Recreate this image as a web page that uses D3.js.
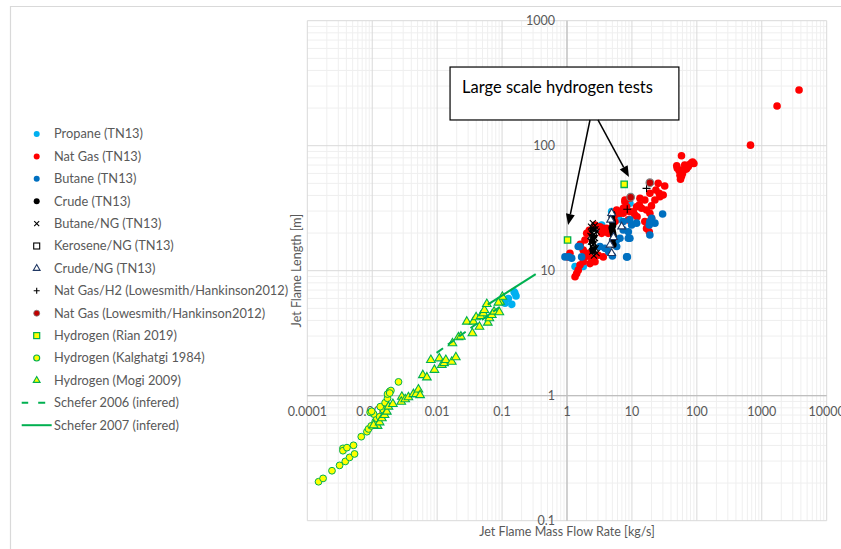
<!DOCTYPE html>
<html><head><meta charset="utf-8">
<script src="https://cdn.jsdelivr.net/npm/d3@7"></script>
<style>body{margin:0;background:#fff}svg{display:block;font-family:Lato,"Open Sans",sans-serif}</style>
</head><body><svg id="c" width="841" height="549"></svg>
<script>
// ---------- DATA (mass flow rate kg/s, flame length m) ----------
const propaneTN13 = [[0.111,5.49],[0.141,5.38],[0.105,5.83],[0.125,6.0],[0.153,6.79],[0.164,6.28],[0.158,6.6],
  [9.3,34.6],[4.87,29.7],[3.42,23.2],[5.82,25.5],[1.78,10.8],[1.33,10.8],[2.9,21.5],[6.2,26.5]];
const natGasTN13 = [[3750,279],[1720,208],[670,101],
  [58,83],[49,69],[83,73],[90,72],[69,65],[62,64],[53.5,63],[55,58],[56,54],[73.5,68],[65,70],[78,71],[50,66],[60,60],[66,66],[86,74],[58,57],
  [25.4,50],[32,47.6],[23.4,44.2],[26.3,41.6],[30.3,40.3],[18.9,41.6],[15.8,36.8],[13,33.6],[14.1,31.6],[16.8,30.6],[18.9,28.8],[20.1,26.3],
  [15.8,24.7],[16.8,21.8],[18.5,20.5],[10.5,29.6],[8.8,25.5],[7.8,35.6],[8.3,32.5],[11.8,32.5],[7.35,28.8],[22.6,36.8],[12,27],[13.3,38],
  [9.3,38],[7.8,36.8],[11.1,27.9],[9.3,29.6],[5.47,27.9],[5.82,30.6],[6.54,28.8],[7.35,31.6],[5.47,24.7],[20,33],[27,39],
  [2.7,23.2],[3.22,22.5],[3.62,21.8],[4.07,21.8],[4.32,19.9],[3.42,19.9],[2.01,19.9],[1.89,17.6],[1.78,14.6],[2.13,13.8],[1.89,12.9],
  [2.4,12.6],[2.7,11.8],[2.26,11.4],[1.78,11.8],[1.585,11.1],[1.49,10.1],[1.41,9.5],[1.33,8.95],[1.11,13.8],[1.02,12.9],[3.62,12.9],
  [3.03,13.3],[2.2,21],[1.6,16.3]];
const butaneTN13 = [[0.93,12.9],[1.07,12.9],[1.18,12.6],[1.49,15.6],[1.68,12.9],[1.585,15.6],[3.22,15.6],[3.84,15.1],[5.82,17.6],
  [6.54,18.2],[5.82,15.6],[8.28,12.9],[9.3,18.2],[8.8,20.5],[7.35,21.2],[9.9,23.2],[9.3,25.5],[11.8,24],[29.7,28.4],[20.1,26.3],
  [18.9,24.7],[22.6,24],[18.9,19.3],[8.5,12.9],[8.8,18.2],[18.5,23.2],[7.35,24.7],[4.4,14.2],[5.0,13.1]];
const crudeTN13 = [[4.9,27],[5.0,25],[5.1,23],[5.0,21],[5.2,19],[5.16,16.1],[4.95,28.5],[5.05,24],[4.9,22],[5.1,20],[5.0,17.5],
  [2.5,21],[2.6,19],[2.45,17],[2.55,15.5],[2.5,14.5]];
const butaneNG = [[2.34,22.5],[2.7,22.9],[2.54,21.2],[2.4,19.9],[2.86,20.5],[2.45,18.7],[2.7,18.2],[2.34,17.1],[2.63,16.6],
  [2.4,15.6],[2.77,15.1],[2.45,14.2],[2.86,13.8],[2.54,17.6],[2.3,19],[2.6,13.2],[2.5,24],[2.75,21.5],[2.6,19.5],[2.5,16.2],[2.65,14.6]];
const keroseneNG = [[2.6,20],[2.5,16]];
const crudeNG = [[4.87,28.8],[6.94,22.5],[4.59,16.1],[4.87,13.8],[5.2,18.5],[4.7,25.5]];
const natGasH2 = [[16.8,45.6],[8.47,31]];
const natGasLowesmith = [[18.9,50.6],[9.55,38.7]];
const h2Rian = [[1.02,17.6],[7.6,49.1]];
const h2Kalghatgi = [[0.000149,0.205],[0.000175,0.218],[0.00024,0.251],[0.000314,0.277],[0.000385,0.298],[0.000448,0.321],
  [0.000534,0.342],[0.000354,0.379],[0.000354,0.363],[0.000408,0.384],[0.000515,0.401],[0.000678,0.47],[0.000828,0.515],
  [0.000877,0.542],[0.000966,0.573],[0.00111,0.62],[0.00118,0.659],[0.0013,0.679],[0.00149,0.769],[0.00105,0.714],[0.00093,0.736],
  [0.00133,0.817],[0.00158,0.879],[0.00172,0.953],[0.00172,1.03],[0.00185,1.08],[0.00194,1.1],[0.00254,1.29],[0.00098,0.75],[0.00186,1.05]];
const h2Mogi = [[0.00121,0.573],[0.00105,0.58],[0.0013,0.612],[0.00141,0.659],[0.00155,0.701],[0.00168,0.745],[0.00178,0.817],
  [0.00208,0.858],[0.00286,0.98],[0.0028,0.895],[0.00322,0.936],[0.00361,0.971],[0.00431,1.03],[0.00475,1.03],[0.00515,1.12],
  [0.00547,1.01],[0.00602,1.46],[0.00695,1.4],[0.008,1.93],[0.00908,1.61],[0.0108,1.99],[0.0118,1.76],[0.0128,1.82],[0.0136,1.93],
  [0.0168,1.87],[0.0194,2.03],[0.0172,2.63],[0.0213,2.93],[0.0232,2.97],[0.0286,3.91],[0.0349,3.16],[0.0362,3.91],[0.0398,4.24],
  [0.0448,3.56],[0.047,4.34],[0.0515,4.56],[0.0534,4.85],[0.0582,5.42],[0.0603,3.84],[0.0638,4.16],[0.0695,4.42],[0.0754,4.7],
  [0.0908,4.65],[0.0932,5.65],[0.101,6.19],[0.0877,5.55]];
const schefer2006 = [[0.0098,2.2],[0.1,5.3]];
const schefer2007 = [[0.06,5.35],[0.33,9.4]];
const xTicks = [0.0001,0.001,0.01,0.1,1,10,100,1000,10000];
const xTickLabels = ["0.0001","0.001","0.01","0.1","1","10","100","1000","10000"];
const yTicks = [0.1,1,10,100,1000];
const yTickLabels = ["0.1","1","10","100","1000"];
const legendLabels = ["Propane (TN13)","Nat Gas (TN13)","Butane (TN13)","Crude (TN13)","Butane/NG (TN13)","Kerosene/NG (TN13)",
  "Crude/NG (TN13)","Nat Gas/H2 (Lowesmith/Hankinson2012)","Nat Gas (Lowesmith/Hankinson2012)","Hydrogen (Rian 2019)",
  "Hydrogen (Kalghatgi 1984)","Hydrogen (Mogi 2009)","Schefer 2006 (infered)","Schefer 2007 (infered)"];
const xTitle = "Jet Flame Mass Flow Rate [kg/s]";
const yTitle = "Jet Flame Length [m]";
const annotationText = "Large scale hydrogen tests";
const annotationBox = [[0.0158,426],[52.9,160.6]];
const annotationArrows = [[[2.26,160.6],[1.04,23.2]],[[3.0,160.6],[9.0,56.2]]];

// ---------- DRAW ----------
const svg = d3.select("#c");
const x = d3.scaleLog().domain([0.0001,10000]).range([307.3,826.7]);
const y = d3.scaleLog().domain([0.1,1000]).range([520.7,20.7]);
const txt = "#595959";

svg.append("path").attr("d","M10.5,549V6.5H841").attr("fill","none").attr("stroke","#d9d9d9").attr("stroke-width",1.2);

const g = svg.append("g");
const minorX=[],minorY=[];
for(let d=-4; d<4; d++) for(let k=2;k<10;k++) minorX.push(k*Math.pow(10,d));
for(let d=-1; d<3; d++) for(let k=2;k<10;k++) minorY.push(k*Math.pow(10,d));
g.selectAll(".mx").data(minorX).join("line").attr("x1",d=>x(d)).attr("x2",d=>x(d)).attr("y1",y.range()[0]).attr("y2",y.range()[1]).attr("stroke","#efefef").attr("stroke-width",1);
g.selectAll(".my").data(minorY).join("line").attr("y1",d=>y(d)).attr("y2",d=>y(d)).attr("x1",x.range()[0]).attr("x2",x.range()[1]).attr("stroke","#efefef").attr("stroke-width",1);
g.selectAll(".Mx").data(xTicks).join("line").attr("x1",d=>x(d)).attr("x2",d=>x(d)).attr("y1",y.range()[0]).attr("y2",y.range()[1]).attr("stroke","#d9d9d9").attr("stroke-width",1);
g.selectAll(".My").data(yTicks).join("line").attr("y1",d=>y(d)).attr("y2",d=>y(d)).attr("x1",x.range()[0]).attr("x2",x.range()[1]).attr("stroke","#d9d9d9").attr("stroke-width",1);
g.append("line").attr("x1",x(1)).attr("x2",x(1)).attr("y1",y.range()[0]).attr("y2",y.range()[1]).attr("stroke","#bfbfbf").attr("stroke-width",1.2);
g.append("line").attr("y1",y(1)).attr("y2",y(1)).attr("x1",x.range()[0]).attr("x2",x.range()[1]).attr("stroke","#bfbfbf").attr("stroke-width",1.2);

svg.append("g").selectAll("text").data(xTicks).join("text").attr("x",d=>x(d)).attr("y",y(1)+20).attr("text-anchor","middle")
  .attr("font-size",12.5).attr("fill",txt).text((d,i)=>xTickLabels[i]);
svg.append("g").selectAll("text").data(yTicks).join("text").attr("x",x(1)-12).attr("y",d=>y(d)+4).attr("text-anchor","end")
  .attr("font-size",12.5).attr("fill",txt).text((d,i)=>yTickLabels[i]);
svg.append("text").attr("x",x(1)).attr("y",536).attr("text-anchor","middle").attr("font-size",12.5).attr("fill",txt).text(xTitle);
svg.append("text").attr("transform",`translate(${x.range()[0]-6},${(y.range()[0]+y.range()[1])/2}) rotate(-90)`).attr("text-anchor","middle")
  .attr("font-size",12.5).attr("fill",txt).text(yTitle);

const line = d3.line().x(d=>x(d[0])).y(d=>y(d[1]));
const GREEN="#00B050";

function circle(sel,data,r,fill,stroke,sw){
  sel.append("g").selectAll("circle").data(data).join("circle").attr("cx",d=>x(d[0])).attr("cy",d=>y(d[1])).attr("r",r)
    .attr("fill",fill).attr("stroke",stroke||"none").attr("stroke-width",sw||0);
}
function sym(sel,data,type,size,fill,stroke,sw){
  sel.append("g").selectAll("path").data(data).join("path").attr("transform",d=>`translate(${x(d[0])},${y(d[1])})`)
    .attr("d",d3.symbol(type,size)()).attr("fill",fill).attr("stroke",stroke).attr("stroke-width",sw);
}
function cross(sel,data,s,diag){
  sel.append("g").selectAll("path").data(data).join("path").attr("transform",d=>`translate(${x(d[0])},${y(d[1])})`)
    .attr("d",diag?`M${-s},${-s}L${s},${s}M${-s},${s}L${s},${-s}`:`M${-s},0H${s}M0,${-s}V${s}`).attr("fill","none").attr("stroke","#000").attr("stroke-width",1.1);
}
const plot = svg.append("g");
circle(plot,propaneTN13,3.8,"#00B0F0");
circle(plot,natGasTN13,3.8,"#FF0000");
circle(plot,butaneTN13,3.8,"#0070C0");
circle(plot,crudeTN13,3.4,"#000");
sym(plot,keroseneNG,d3.symbolSquare,20,"#fff","#000",1);
cross(plot,butaneNG,3,true);
sym(plot,crudeNG,d3.symbolTriangle,26,"#fff","#203864",1.1);
cross(plot,natGasH2,4,false);
circle(plot,natGasLowesmith,3.8,"#C00000","#7F7F7F",1.2);
sym(plot,h2Rian,d3.symbolSquare,40,"#FFFF00",GREEN,1.3);
circle(plot,h2Kalghatgi,3.4,"#FFFF00",GREEN,1);
sym(plot,h2Mogi,d3.symbolTriangle,32,"#FFFF00",GREEN,1.1);
plot.append("path").datum(schefer2006).attr("d",line).attr("fill","none").attr("stroke",GREEN).attr("stroke-width",2).attr("stroke-dasharray","8,6");
plot.append("path").datum(schefer2007).attr("d",line).attr("fill","none").attr("stroke",GREEN).attr("stroke-width",2);

const ann = svg.append("g");
ann.append("rect").attr("x",x(annotationBox[0][0])).attr("y",y(annotationBox[0][1]))
  .attr("width",x(annotationBox[1][0])-x(annotationBox[0][0])).attr("height",y(annotationBox[1][1])-y(annotationBox[0][1]))
  .attr("fill","#fff").attr("stroke","#000").attr("stroke-width",1.2);
ann.append("text").attr("x",x(annotationBox[0][0])+12).attr("y",y(annotationBox[0][1])+26).attr("font-size",16.5).attr("fill","#000").text(annotationText);
annotationArrows.forEach(a=>{
  const x0=x(a[0][0]),y0=y(a[0][1]),x1=x(a[1][0]),y1=y(a[1][1]);
  const ang=Math.atan2(y1-y0,x1-x0), L=11, W=4.5;
  const bx=x1-L*Math.cos(ang), by=y1-L*Math.sin(ang);
  ann.append("line").attr("x1",x0).attr("y1",y0).attr("x2",bx).attr("y2",by).attr("stroke","#000").attr("stroke-width",1.5);
  ann.append("path").attr("d",`M${x1},${y1}L${bx+W*Math.sin(ang)},${by-W*Math.cos(ang)}L${bx-W*Math.sin(ang)},${by+W*Math.cos(ang)}Z`).attr("fill","#000");
});

const leg = svg.append("g");
const lx=36.7, ly0=134, ldy=22.4;
const legSpec=[["c","#00B0F0"],["c","#FF0000"],["c","#0070C0"],["c","#000"],["x"],["sq"],["tri"],["plus"],["lc"],["rian"],["kal"],["mogi"],["dash"],["solid"]];
legSpec.forEach((s,i)=>{
  const cy=ly0+i*ldy, gg=leg.append("g").attr("transform",`translate(${lx},${cy})`);
  const t=s[0];
  if(t==="c") gg.append("circle").attr("r",3).attr("fill",s[1]);
  if(t==="x") gg.append("path").attr("d","M-2.5,-2.5L2.5,2.5M-2.5,2.5L2.5,-2.5").attr("stroke","#000").attr("stroke-width",1.1);
  if(t==="sq") gg.append("rect").attr("x",-3).attr("y",-3).attr("width",6).attr("height",6).attr("fill","#fff").attr("stroke","#000").attr("stroke-width",1.1);
  if(t==="tri") gg.append("path").attr("d",d3.symbol(d3.symbolTriangle,20)()).attr("fill","#fff").attr("stroke","#203864").attr("stroke-width",1.1);
  if(t==="plus") gg.append("path").attr("d","M-3,0H3M0,-3V3").attr("stroke","#000").attr("stroke-width",1.1);
  if(t==="lc") gg.append("circle").attr("r",3).attr("fill","#C00000").attr("stroke","#7F7F7F").attr("stroke-width",0.8);
  if(t==="rian") gg.append("rect").attr("x",-3).attr("y",-3).attr("width",6).attr("height",6).attr("fill","#FFFF00").attr("stroke",GREEN).attr("stroke-width",1.2);
  if(t==="kal") gg.append("circle").attr("r",3).attr("fill","#FFFF00").attr("stroke",GREEN).attr("stroke-width",1.1);
  if(t==="mogi") gg.append("path").attr("d",d3.symbol(d3.symbolTriangle,20)()).attr("fill","#FFFF00").attr("stroke",GREEN).attr("stroke-width",1.1);
  if(t==="dash") gg.append("path").attr("d","M-15,0H-8.5M1.5,0H8.5").attr("stroke",GREEN).attr("stroke-width",2);
  if(t==="solid") gg.append("path").attr("d","M-15,0H15").attr("stroke",GREEN).attr("stroke-width",2);
  leg.append("text").attr("x",54).attr("y",cy+4.4).attr("font-size",12.8).attr("fill",txt).text(legendLabels[i]);
});
</script></body></html>
